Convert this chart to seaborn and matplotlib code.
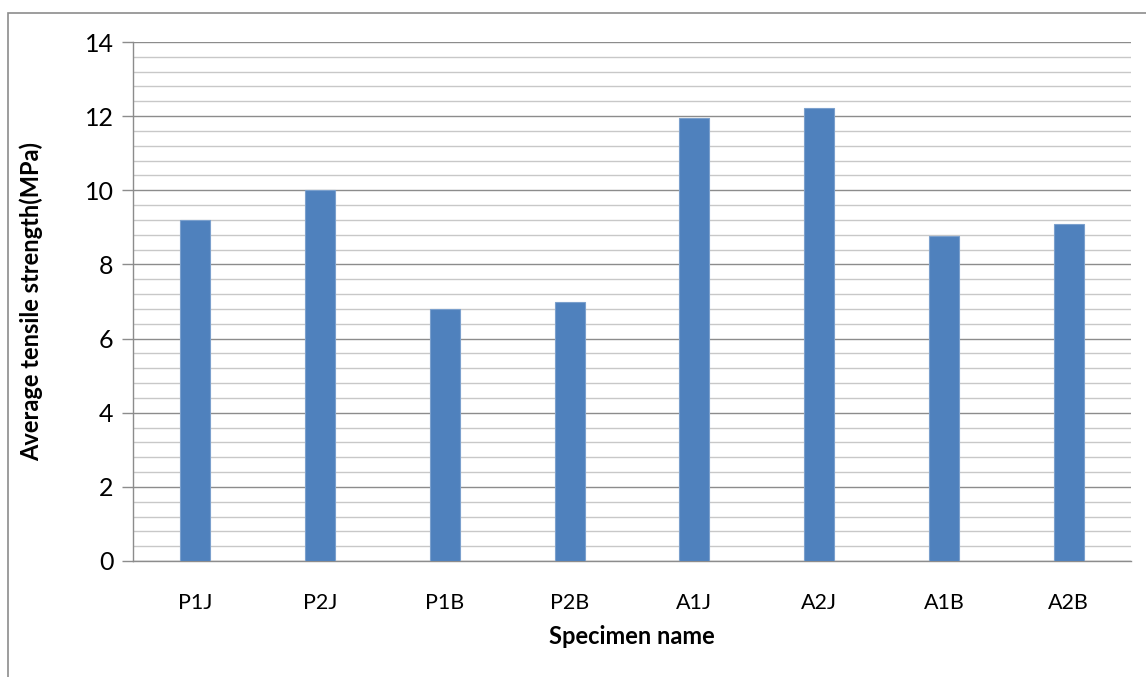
import matplotlib
matplotlib.use("Agg")
import matplotlib.pyplot as plt
import seaborn as sns
import pandas as pd
from matplotlib.ticker import MultipleLocator
from matplotlib.patches import Rectangle

specimens = ["P1J", "P2J", "P1B", "P2B", "A1J", "A2J", "A1B", "A2B"]
strength = [9.2, 10.0, 6.8, 7.0, 11.95, 12.22, 8.77, 9.09]
y_ticks = [0, 2, 4, 6, 8, 10, 12, 14]

df = pd.DataFrame({"Specimen name": specimens, "strength": strength})

sns.set_theme(style="white")
plt.rcParams['font.family'] = ['Lato', 'DejaVu Sans']
plt.rcParams['text.color'] = 'black'
plt.rcParams['axes.labelcolor'] = 'black'

fig = plt.figure(figsize=(11.46, 6.77), dpi=100)
ax = fig.add_axes([133/1146, 1-561/677, (1131-133)/1146, (561-42)/677])

sns.barplot(data=df, x="Specimen name", y="strength", ax=ax, color="#4F81BD",
            saturation=1, width=0.24, edgecolor="#7BA0CD", linewidth=0.8, zorder=3)

ax.set_ylim(0, 14)
ax.set_xlim(-0.5, len(specimens) - 0.5)
ax.set_yticks(y_ticks)
ax.yaxis.set_minor_locator(MultipleLocator(0.4))
ax.grid(True, which="major", axis="y", color="#8C8C8C", linewidth=1.0, zorder=0)
ax.grid(True, which="minor", axis="y", color="#C8C8C8", linewidth=1.0, zorder=0)
ax.set_axisbelow(True)

for s in ["top", "right"]:
    ax.spines[s].set_visible(False)
for s in ["left", "bottom"]:
    ax.spines[s].set_color("#8C8C8C")
    ax.spines[s].set_linewidth(1.0)

ax.tick_params(axis="y", which="major", left=True, length=8, width=1.0, color="#8C8C8C",
               labelsize=18, pad=6, labelcolor="black")
ax.tick_params(axis="y", which="minor", left=False)
ax.tick_params(axis="x", bottom=False, labelsize=15.5, pad=17, labelcolor="black")

ax.set_xlabel("Specimen name", fontsize=17, fontweight="bold", labelpad=9, color="black")
ax.set_ylabel("Average tensile strength(MPa)", fontsize=17, fontweight="bold", labelpad=30,
              color="black")

# outer chart border
fig.patches.append(Rectangle((8/1146, -0.01), 1.05, 1 - 13/677 + 0.01, transform=fig.transFigure,
                             fill=False, edgecolor="#8C8C8C", linewidth=1.2))

fig.savefig("out.png", dpi=100)
